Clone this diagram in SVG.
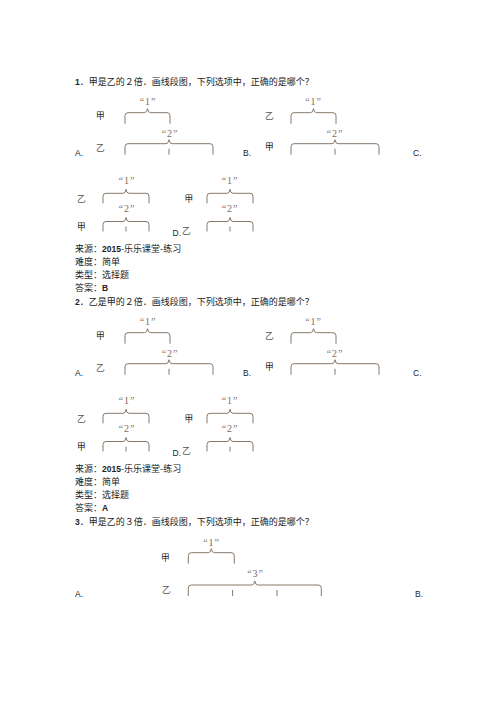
<svg xmlns="http://www.w3.org/2000/svg" width="496" height="702" viewBox="0 0 496 702">
<style>
.t{font-family:"Noto Sans CJK SC","Noto Sans",sans-serif;font-size:9px;fill:#222}
.n{font-family:"Liberation Sans",Arial,sans-serif;font-size:8.5px;fill:#222}
.b{font-family:"Liberation Sans",Arial,sans-serif;font-size:8.5px;fill:#222;font-weight:bold}
.jia{font-family:"Noto Sans CJK SC",sans-serif;font-size:8.7px;fill:#222}
.yi{font-family:"Noto Sans CJK SC",sans-serif;font-size:8.7px;fill:#555}
.q{font-family:"Liberation Serif","Times New Roman",serif;font-size:10px;fill:#7d6e5e;text-anchor:middle;letter-spacing:0.8px}
.br{fill:none;stroke:#86786a;stroke-width:1}
</style>
<defs>
<path id="bA" class="br" d="M0,11V3Q0,0 3,0H19.5Q22,0 22.5,-4Q23,0 25.5,0H42Q45,0 45,3V11"/>
<path id="bB" class="br" d="M0,11V3Q0,0 3,0H41Q43.5,0 44,-4Q44.5,0 47,0H85Q88,0 88,3V11M44,5V11"/>
<path id="bC" class="br" d="M0,10V3Q0,0 3,0H20Q22.5,0 23,-4Q23.5,0 26,0H43Q46,0 46,3V10"/>
<path id="bCt" class="br" d="M0,10V3Q0,0 3,0H20Q22.5,0 23,-4Q23.5,0 26,0H43Q46,0 46,3V10M23,5V10"/>
<path id="bD" class="br" d="M0,11V3Q0,0 3,0H20Q22.5,0 23,-4Q23.5,0 26,0H43Q46,0 46,3V11"/>
<path id="bE" class="br" d="M0,11V3Q0,0 3,0H63.5Q66,0 66.5,-4Q67,0 69.5,0H130Q133,0 133,3V11M44.3,5V11M88.7,5V11"/>
</defs>

<g id="q1">
<text class="t" x="75" y="84.5"><tspan class="b">1</tspan>．甲是乙的２倍．画线段图，下列选项中，正确的是哪个？</text>
<g id="q1-a">
<text class="jia" x="96" y="119">甲</text>
<use href="#bA" x="125" y="112.7"/>
<text class="q" x="148" y="104.5">“1”</text>
<text class="yi" x="96" y="150.5">乙</text>
<use href="#bB" x="125" y="143.7"/>
<text class="q" x="170" y="137">“2”</text>
<text class="n" x="75" y="156">A.</text>
</g>
<g id="q1-b">
<text class="n" x="243" y="156">B.</text>
<text class="yi" x="265" y="119">乙</text>
<use href="#bA" x="291" y="112.7"/>
<text class="q" x="313.5" y="104.5">“1”</text>
<text class="jia" x="265" y="150">甲</text>
<use href="#bB" x="291" y="143.7"/>
<text class="q" x="335" y="137">“2”</text>
<text class="n" x="413" y="156">C.</text>
</g>
<g id="q1-c">
<text class="yi" x="77" y="202">乙</text>
<use href="#bC" x="103" y="193.3"/>
<text class="q" x="127" y="183.5">“1”</text>
<text class="jia" x="77" y="229.5">甲</text>
<use href="#bCt" x="103" y="221.5"/>
<text class="q" x="127" y="212">“2”</text>
</g>
<g id="q1-d">
<text class="jia" x="184.5" y="202">甲</text>
<use href="#bC" x="207" y="193.3"/>
<text class="q" x="230" y="183.5">“1”</text>
<text class="n" x="172.5" y="235.5">D.</text>
<text class="yi" x="182" y="234">乙</text>
<use href="#bCt" x="207" y="221.5"/>
<text class="q" x="230" y="212">“2”</text>
</g>
<text class="t" x="75" y="251.5">来源：<tspan class="b">2015</tspan>-乐乐课堂-练习</text>
<text class="t" x="75" y="264.8">难度：简单</text>
<text class="t" x="75" y="278">类型：选择题</text>
<text class="t" x="75" y="291">答案：<tspan class="b">B</tspan></text>
</g>

<g id="q2">
<text class="t" x="75" y="304.5"><tspan class="b">2</tspan>．乙是甲的２倍．画线段图，下列选项中，正确的是哪个？</text>
<g id="q2-a">
<text class="jia" x="96" y="339">甲</text>
<use href="#bA" x="125" y="332.7"/>
<text class="q" x="148" y="324.5">“1”</text>
<text class="yi" x="96" y="370.5">乙</text>
<use href="#bB" x="125" y="363.7"/>
<text class="q" x="170" y="357">“2”</text>
<text class="n" x="75" y="376">A.</text>
</g>
<g id="q2-b">
<text class="n" x="243" y="376">B.</text>
<text class="yi" x="265" y="339">乙</text>
<use href="#bA" x="291" y="332.7"/>
<text class="q" x="313.5" y="324.5">“1”</text>
<text class="jia" x="265" y="370">甲</text>
<use href="#bB" x="291" y="363.7"/>
<text class="q" x="335" y="357">“2”</text>
<text class="n" x="413" y="376">C.</text>
</g>
<g id="q2-c">
<text class="yi" x="77" y="422">乙</text>
<use href="#bC" x="103" y="413.3"/>
<text class="q" x="127" y="403.5">“1”</text>
<text class="jia" x="77" y="449.5">甲</text>
<use href="#bCt" x="103" y="441.5"/>
<text class="q" x="127" y="432">“2”</text>
</g>
<g id="q2-d">
<text class="jia" x="184.5" y="422">甲</text>
<use href="#bC" x="207" y="413.3"/>
<text class="q" x="230" y="403.5">“1”</text>
<text class="n" x="172.5" y="455.5">D.</text>
<text class="yi" x="182" y="454">乙</text>
<use href="#bCt" x="207" y="441.5"/>
<text class="q" x="230" y="432">“2”</text>
</g>
<text class="t" x="75" y="471.5">来源：<tspan class="b">2015</tspan>-乐乐课堂-练习</text>
<text class="t" x="75" y="484.8">难度：简单</text>
<text class="t" x="75" y="498">类型：选择题</text>
<text class="t" x="75" y="511">答案：<tspan class="b">A</tspan></text>
</g>

<g id="q3">
<text class="t" x="75" y="524.5"><tspan class="b">3</tspan>．甲是乙的３倍．画线段图，下列选项中，正确的是哪个？</text>
<g id="q3-a">
<text class="jia" x="161" y="560.5">甲</text>
<use href="#bD" x="188.3" y="552.7"/>
<text class="q" x="211.5" y="546">“1”</text>
<text class="yi" x="162" y="593">乙</text>
<use href="#bE" x="188.3" y="585"/>
<text class="q" x="255.5" y="577">“3”</text>
<text class="n" x="75" y="597">A.</text>
<text class="n" x="415" y="597">B.</text>
</g>
</g>
</svg>
